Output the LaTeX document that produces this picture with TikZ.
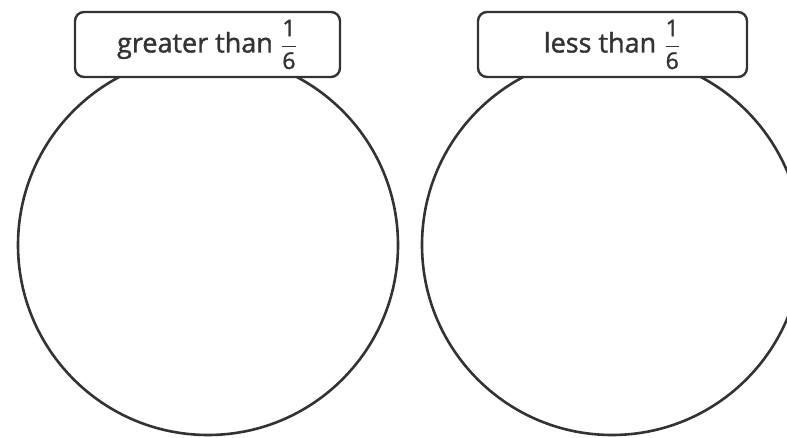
\documentclass[tikz,border=0pt]{standalone}
\usepackage{amsmath}
\usepackage{fontspec}
\setmainfont{Open Sans}[FakeBold=1.4]
\usepackage{tikz}
\definecolor{inkgray}{RGB}{51,51,51}
\newcommand{\onesixth}{{\fontsize{11.5}{12}\selectfont$\dfrac{\text{1}}{\text{6}}$}}

\begin{document}
\begin{tikzpicture}[x=0.5pt,y=-0.5pt,
  setcircle/.style={draw=inkgray,line width=1.3pt,circle,minimum size=190pt,inner sep=0pt},
  labelbox/.style={draw=inkgray,line width=1.2pt,fill=white,rounded corners=4.5pt,
    minimum height=32.5pt,inner sep=0pt,text=inkgray,font=\fontsize{13.5}{15}\selectfont}]

\useasboundingbox (0,0) rectangle (787,438);
\clip (0,0) rectangle (787,438);

% circles
\node[setcircle] (greaterset) at (208,245) {};
\node[setcircle] (lessset) at (612,245) {};

% labels
\node[labelbox,minimum width=132.5pt] (greaterlabel) at (207.5,44.5)
  {greater than \onesixth};
\node[labelbox,minimum width=134.5pt] (lesslabel) at (612.5,44.5)
  {less than \onesixth};

\end{tikzpicture}
\end{document}
